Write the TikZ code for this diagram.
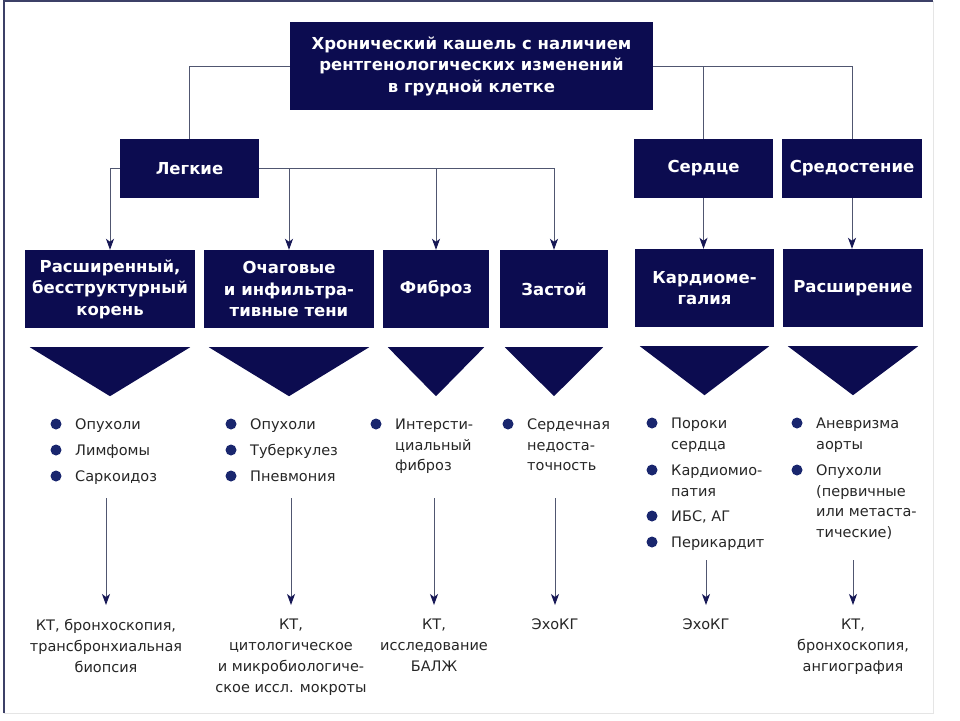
\documentclass[tikz,border=0pt]{standalone}
\usepackage{fontspec}
\setmainfont{DejaVu Sans}
\usetikzlibrary{arrows.meta}

\definecolor{navyfill}{RGB}{12,12,80}
\definecolor{dotblue}{RGB}{25,38,110}
\definecolor{linegray}{RGB}{80,86,112}

\tikzset{
  box/.style={fill=navyfill, text=white, align=center, inner sep=0pt,
    font=\fontsize{16.5}{21.5}\selectfont\bfseries},
  link/.style={draw=linegray, line width=0.9pt},
  arr/.style={link, -{Stealth[length=11pt,width=8pt,inset=3pt,color=navyfill!85!linegray]}},
  item/.style={anchor=base west, align=left, inner sep=0pt,
    font=\fontsize{14.5}{20.5}\selectfont, text=black!85},
  result/.style={anchor=north, align=center, inner xsep=0pt, inner ysep=14pt,
    font=\fontsize{14.5}{21}\selectfont, text=black!85},
  dot/.style={fill=dotblue}
}

% wedge under a finding box
\newcommand{\wedgeunder}[1]{%
  \fill[navyfill] ([xshift=5pt,yshift=-19pt]#1.south west)
    -- ([xshift=-5pt,yshift=-19pt]#1.south east)
    -- ([yshift=-68pt]#1.south) -- cycle;}

\begin{document}
\begin{tikzpicture}[x=1pt, y=-1pt]

    \useasboundingbox (0,0) rectangle (960,720);

    % Frame
    \draw[black!10, line width=1pt] (4,713) -- (933,713) -- (933,1);
    \draw[linegray!70!navyfill, line width=2pt] (4,713) -- (4,1) -- (933,1);

    % Top box
    \node[box, minimum width=363pt, minimum height=88pt] (top) at (471.5,66)
        {Хронический кашель с наличием\\рентгенологических изменений\\в грудной клетке};

    % Organs
    \node[box, minimum width=139pt, minimum height=59pt] (lungs) at (189.5,168.5) {Легкие};
    \node[box, minimum width=139pt, minimum height=59pt] (heart) at (703.5,168.5) {Сердце};
    \node[box, minimum width=140pt, minimum height=59pt] (medi)  at (852,168.5)   {Средостение};

    % Findings
    \node[box, minimum width=170pt, minimum height=78pt] (b1) at (110,289)   {Расширенный,\\бесструктурный\\корень};
    \node[box, minimum width=170pt, minimum height=78pt] (b2) at (289,289)   {Очаговые\\и инфильтра-\\тивные тени};
    \node[box, minimum width=106pt, minimum height=78pt] (b3) at (436,289)   {Фиброз};
    \node[box, minimum width=108pt, minimum height=78pt] (b4) at (554,289)   {Застой};
    \node[box, minimum width=139pt, minimum height=78pt] (b5) at (704.5,288) {Кардиоме-\\галия};
    \node[box, minimum width=140pt, minimum height=78pt] (b6) at (853,288)   {Расширение};

    % Connectors top level
    \draw[link] (top.west) -| (lungs.north);
    \draw[link] (top.east) -| (medi.north);
    \draw[link] (heart.north |- top.east) -- (heart.north);

    % Connectors second level
    \draw[arr] (lungs.west) -| (b1.north);
    \draw[arr] (lungs.east) -| (b4.north);
    \draw[arr] (b2.north |- lungs.east) -- (b2.north);
    \draw[arr] (b3.north |- lungs.east) -- (b3.north);
    \draw[arr] (heart.south) -- (heart.south |- b5.north);
    \draw[arr] (medi.south) -- (medi.south |- b6.north);

    % Wedges
    \foreach \b in {b1,b2,b3,b4,b5,b6} {\wedgeunder{\b}}

    % Lists (base of a multi-line node = its last line)
    \foreach \t [count=\i] in {Опухоли,Лимфомы,Саркоидоз} {
        \node[item] (l1-\i) at (75,403.5+26*\i) {\t};
        \fill[dot] (56,398+26*\i) circle (5.5pt);
    }
    \foreach \t [count=\i] in {Опухоли,Туберкулез,Пневмония} {
        \node[item] (l2-\i) at (250,403.5+26*\i) {\t};
        \fill[dot] (231,398+26*\i) circle (5.5pt);
    }
    \node[item] (l3-1) at (395,470.5) {Интерсти-\\циальный\\фиброз};
    \fill[dot] (376,424) circle (5.5pt);
    \node[item] (l4-1) at (527,470.5) {Сердечная\\недоста-\\точность};
    \fill[dot] (508,424) circle (5.5pt);

    \node[item] (l5-1) at (671,449) {Пороки\\сердца};
    \node[item] (l5-2) at (671,496) {Кардиомио-\\патия};
    \node[item] (l5-3) at (671,521.5) {ИБС, АГ};
    \node[item] (l5-4) at (671,547.5) {Перикардит};
    \foreach \y in {423,470,516,542} {\fill[dot] (652,\y) circle (5.5pt);}

    \node[item] (l6-1) at (816,449) {Аневризма\\аорты};
    \node[item] (l6-2) at (816,537) {Опухоли\\(первичные\\или метаста-\\тические)};
    \foreach \y in {423,470} {\fill[dot] (797,\y) circle (5.5pt);}

    % Results
    \node[result] (r1) at (106,605) {КТ, бронхоскопия,\\трансбронхиальная\\биопсия};
    \node[result] (r2) at (291,605) {КТ,\\цитологическое\\и микробиологиче-\\ское иссл. мокроты};
    \node[result] (r3) at (434,605) {КТ,\\исследование\\БАЛЖ};
    \node[result] (r4) at (555,605) {ЭхоКГ};
    \node[result] (r5) at (706,605) {ЭхоКГ};
    \node[result] (r6) at (853,605) {КТ,\\бронхоскопия,\\ангиография};

    \coordinate (s1) at (106,498);
    \coordinate (s2) at (291,498);
    \coordinate (s3) at (434,498);
    \coordinate (s4) at (555,498);
    \coordinate (s5) at (706,560);
    \coordinate (s6) at (853,560);
    \foreach \i in {1,...,6} {\draw[arr] (s\i) -- (r\i.north);}

\end{tikzpicture}
\end{document}
